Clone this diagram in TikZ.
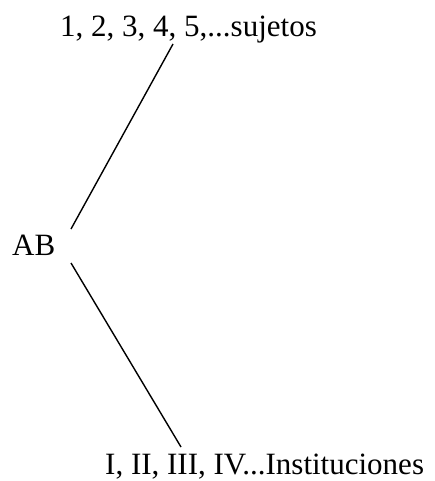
\documentclass[tikz,border=0pt]{standalone}
\usepackage{fontspec}
\setmainfont{Liberation Serif}

\begin{document}
\begin{tikzpicture}[x=1pt,y=-1pt,
    lbl/.style={inner sep=0pt,anchor=base west,font=\fontsize{31}{36}\selectfont},
    branch/.style={line width=1.4pt}]
    \useasboundingbox (0,0) rectangle (435,481);
    % labels
    \node[lbl] (sujetos) at (60,37) {1, 2, 3, 4, 5,...sujetos};
    \node[lbl] (ab) at (12,255) {AB};
    \node[lbl] (inst) at (105,474) {I, II, III, IV...Instituciones};

    % branch ends
    \coordinate (top) at (173,44);
    \coordinate (abtop) at (71,229);
    \coordinate (abbot) at (71,263);
    \coordinate (bot) at (181,447);

    \draw[branch] (top) -- (abtop);
    \draw[branch] (abbot) -- (bot);
\end{tikzpicture}
\end{document}
